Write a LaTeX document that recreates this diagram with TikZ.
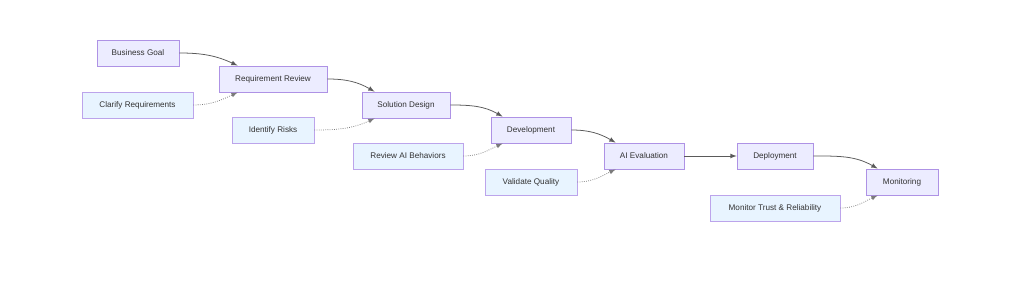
\documentclass[tikz,border=0pt]{standalone}
\usepackage{fontspec}
\setmainfont{Liberation Sans}
\definecolor{mainfill}{HTML}{ECECFF}
\definecolor{mainline}{HTML}{AE92E5}
\definecolor{sidefill}{HTML}{E8F4FF}
\definecolor{sideline}{HTML}{BCA4EB}
\definecolor{edgegray}{HTML}{5A5A5A}
\definecolor{labelgray}{HTML}{333333}
\begin{document}
\begin{tikzpicture}[
    x=0.025cm,y=-0.025cm,
    >=latex,
    flow/.style={->, line width=0.55pt, draw=edgegray},
    hint/.style={->, line width=0.55pt, draw=edgegray!80, densely dotted},
    stage/.style={
        draw=mainline,
        fill=mainfill,
        text=labelgray,
        line width=0.6pt,
        minimum height=18.5pt,
        inner ysep=0pt,
        font=\fontsize{5.8}{7}\selectfont
    },
    task/.style={
        stage,
        draw=sideline,
        fill=sidefill
    }
]
    \useasboundingbox (0,0) rectangle (1024,288);

    \node[stage, minimum width=58.3pt] (goal) at (138,53) {Business Goal};
    \node[stage, minimum width=76.8pt] (review) at (273,79) {Requirement Review};
    \node[stage, minimum width=62.6pt] (design) at (406,105) {Solution Design};
    \node[stage, minimum width=56.9pt] (dev) at (531,130) {Development};
    \node[stage, minimum width=56.9pt] (eval) at (644,156) {AI Evaluation};
    \node[stage, minimum width=54pt] (deploy) at (775,156) {Deployment};
    \node[stage, minimum width=51.2pt] (monitor) at (902,182) {Monitoring};

    \node[task, minimum width=78.9pt] (clarify) at (137.5,105) {Clarify Requirements};
    \node[task, minimum width=58.3pt] (risks) at (273,130) {Identify Risks};
    \node[task, minimum width=78.2pt] (behave) at (408,156) {Review AI Behaviors};
    \node[task, minimum width=65.4pt] (quality) at (531,182) {Validate Quality};
    \node[task, minimum width=92.4pt] (trust) at (775,208) {Monitor Trust \& Reliability};

    % main flow
    \draw[flow] (goal.east) to[out=0, in=155] ([xshift=13.5pt]review.north west);
    \draw[flow] (review.east) to[out=0, in=150] ([xshift=9.2pt]design.north west);
    \draw[flow] (design.east) to[out=0, in=150] ([xshift=8.5pt]dev.north west);
    \draw[flow] (dev.east) to[out=0, in=150] ([xshift=8.5pt]eval.north west);
    \draw[flow] (eval.east) -- (deploy.west);
    \draw[flow] (deploy.east) to[out=0, in=150] ([xshift=8.5pt]monitor.north west);

    % side tasks
    \draw[hint] (clarify.east) to[out=0, in=205] ([xshift=13.5pt]review.south west);
    \draw[hint] (risks.east) to[out=0, in=205] ([xshift=9.2pt]design.south west);
    \draw[hint] (behave.east) to[out=0, in=205] ([xshift=8.5pt]dev.south west);
    \draw[hint] (quality.east) to[out=0, in=205] ([xshift=8.5pt]eval.south west);
    \draw[hint] (trust.east) to[out=0, in=205] ([xshift=8.5pt]monitor.south west);
\end{tikzpicture}
\end{document}
